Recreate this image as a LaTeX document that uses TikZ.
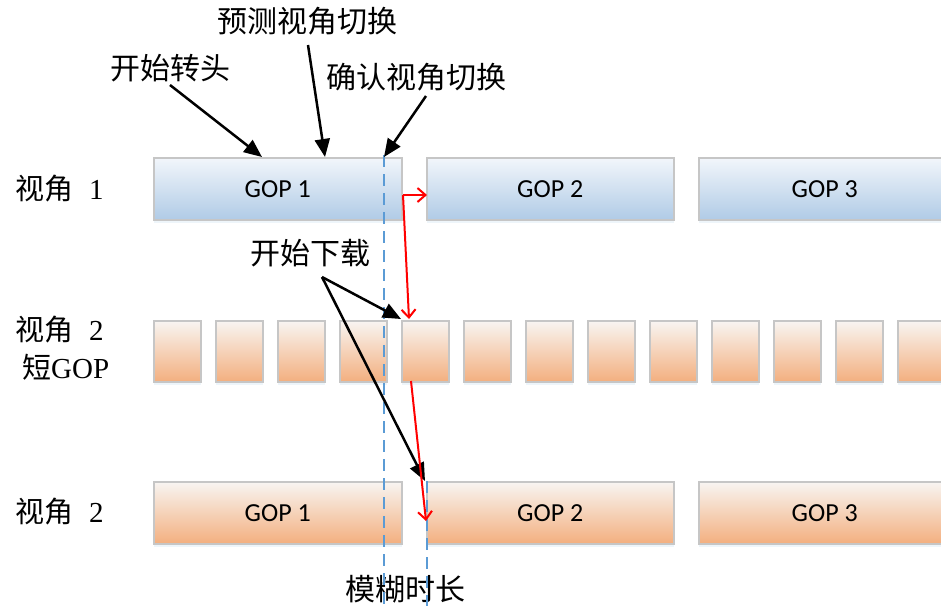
\documentclass[tikz,border=0pt]{standalone}
\usepackage{fontspec}
\setmainfont{Liberation Serif}
\setsansfont{Carlito}
\newfontfamily\cjk{Noto Sans CJK SC}
\usetikzlibrary{arrows.meta,shadows}
\definecolor{bluetop}{HTML}{F2F6FB}
\definecolor{bluemid}{HTML}{D3E3F2}
\definecolor{bluebot}{HTML}{B0CBE6}
\definecolor{orgtop}{HTML}{F8F5F2}
\definecolor{orgmid}{HTML}{F5CDB0}
\definecolor{orgbot}{HTML}{F3AF7F}
\definecolor{edgegray}{HTML}{C6C6C6}
\definecolor{dashblue}{HTML}{5B9BD5}
\definecolor{redline}{HTML}{FF0000}
\tikzset{
  gopbox/.style={draw=edgegray, line width=1.5pt, minimum height=62pt, inner sep=0pt,
    anchor=north west, font=\sffamily\fontsize{26}{30}\selectfont,
    drop shadow={shadow xshift=0pt, shadow yshift=-3pt, fill=dashblue!30, opacity=0.35}},
  bluebox/.style={gopbox, top color=bluetop, middle color=bluemid, bottom color=bluebot},
  orgbox/.style={gopbox, top color=orgtop, middle color=orgmid, bottom color=orgbot},
  cjklabel/.style={font=\cjk\fontsize{30}{34}\selectfont, inner sep=1pt},
  sidelabel/.style={anchor=west, font=\fontsize{29}{34}\selectfont, inner sep=0pt},
  blackarrow/.style={line width=2.5pt, -{Triangle[length=18pt,width=15pt]}},
  redarrow/.style={draw=redline, line width=2pt, -{Straight Barb[length=8pt,width=14pt]}},
  bluedash/.style={draw=dashblue, line width=2.5pt, dash pattern=on 12pt off 7pt}
}
\begin{document}
\begin{tikzpicture}[x=1pt,y=-1pt]
\useasboundingbox (0,0) rectangle (941,606);
\clip (0,0) rectangle (941,606);

% row 1
\node[bluebox, minimum width=248pt] (a1) at (153,157) {GOP 1};
\node[bluebox, minimum width=247pt] (a2) at (426,157) {GOP 2};
\node[bluebox, minimum width=252pt] (a3) at (698,157) {GOP 3};

% row 2 (short GOP)
\foreach \i in {0,...,12}
  \node[orgbox, minimum width=47pt, minimum height=61pt] (s\i) at ({153+62*\i},320) {};

% row 3
\node[orgbox, minimum width=248pt] (c1) at (153,481) {GOP 1};
\node[orgbox, minimum width=247pt] (c2) at (426,481) {GOP 2};
\node[orgbox, minimum width=252pt] (c3) at (698,481) {GOP 3};

% side labels
\node[sidelabel] (v1) at (15,189) {{\cjk 视角}\hspace{16pt}1};
\node[sidelabel] (v2) at (15,330) {{\cjk 视角}\hspace{16pt}2};
\node[sidelabel] (v2b) at (22,367) {{\cjk 短}GOP};
\node[sidelabel] (v3) at (15,512) {{\cjk 视角}\hspace{16pt}2};

% top labels
\node[cjklabel] (lturn) at (170,68) {开始转头};
\node[cjklabel] (lpred) at (307,21) {预测视角切换};
\node[cjklabel] (lconf) at (416,77) {确认视角切换};
\node[cjklabel] (ldl) at (310,253) {开始下载};
\node[cjklabel] (lblur) at (405,589) {模糊时长};

% blue dashed lines
\coordinate (d1t) at (384,155);
\coordinate (d1b) at (384,606);
\coordinate (d2t) at (427,481);
\coordinate (d2b) at (427,606);
\draw[bluedash] (d1t) -- (d1b);
\draw[bluedash] (d2t) -- (d2b);

% black arrows
\coordinate (t1s) at (170,85);
\coordinate (t1e) at (262,157);
\coordinate (t2s) at (308,45);
\coordinate (t2e) at (325,157);
\coordinate (t3s) at (426,96);
\coordinate (t3e) at (384,157);
\coordinate (t4s) at (322,277);
\coordinate (t4e) at (401,319);
\coordinate (t5e) at (425,481);
\draw[blackarrow] (t1s) -- (t1e);
\draw[blackarrow] (t2s) -- (t2e);
\draw[blackarrow] (t3s) -- (t3e);
\draw[blackarrow] (t4s) -- (t4e);
\draw[blackarrow] (t4s) -- (t5e);

% red arrows
\coordinate (rc) at (403,195);
\coordinate (rh) at (427,195);
\coordinate (rv) at (409,319);
\coordinate (r2s) at (411,381);
\coordinate (r2e) at (426,521);
\draw[redarrow] (rc) -- (rh);
\draw[redarrow] (rc) -- (rv);
\draw[redarrow] (r2s) -- (r2e);
\end{tikzpicture}
\end{document}
